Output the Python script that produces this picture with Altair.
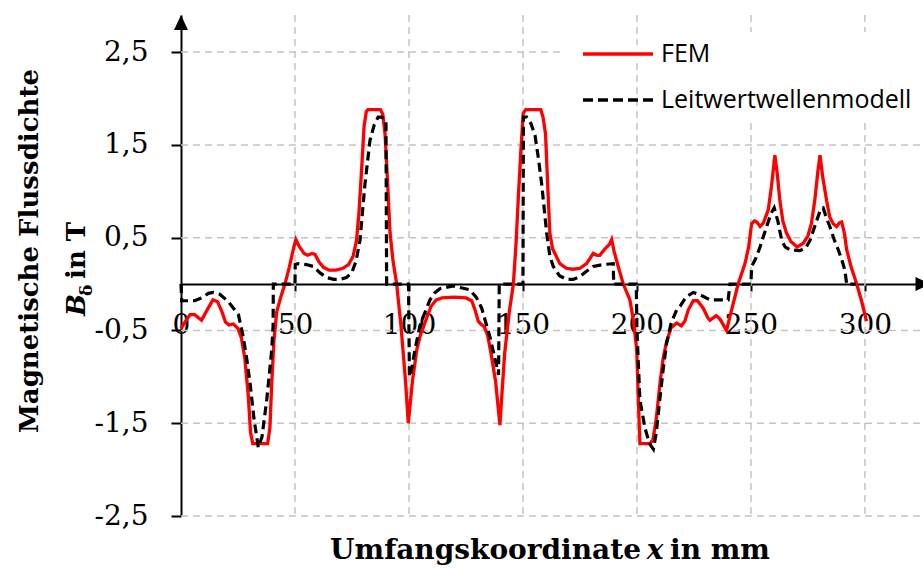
import altair as alt
import pandas as pd

# ---------------- data ----------------
series_names = ["FEM", "Leitwertwellenmodell"]

fem_x = [0, 2, 4, 6, 9, 11, 14, 16, 18, 19.5, 21, 23, 25, 26.5, 28, 29.5, 30.5, 31.5, 38, 39,
         39.8, 40.8, 42, 44, 45.6, 47.5, 49.5, 50.4, 52, 54, 55.5, 57.5, 58.8, 60.5, 62.5, 65, 68,
         71, 73.5, 75.5, 77, 78, 79.3, 80.3, 81.3, 82, 87.5, 88.5, 89.5, 90.5, 91.7, 93, 94.6,
         96.5, 98.5, 99.7, 101.5, 103.4, 105, 106.5, 108, 109.7, 112, 114.5, 120, 125, 127.5,
         129, 130.4, 131.5, 133, 134.5, 136, 138, 139.9, 141, 142, 144, 145.8, 147, 147.9, 149,
         150.1, 151.2, 157.8, 158.8, 159.9, 160.8, 161.8, 163, 166.2, 169, 172, 175, 177.9, 179.5,
         180.8, 182.5, 183.7, 186, 188, 188.9, 190, 192, 194, 196.9, 198.5, 199.9, 200.7, 201.3,
         205.7, 207, 208.5, 210.1, 211.5, 213, 215, 217.4, 219.5, 221, 222.5, 224.7, 226.5, 229.1,
         231, 232, 234.8, 236.5, 239.3, 241, 244.4, 247.4, 249, 250.3, 251.5, 252.5, 254, 255.5,
         257.6, 259, 260.5, 261.5, 262.7, 264, 265.6, 267.5, 270.3, 273, 275, 276.5, 278, 279.3,
         280.3, 281.5, 283.2, 284.6, 286.1, 287.6, 288.8, 289.8, 291, 292, 294, 296.4, 298.5, 300.7]
fem_y = [-0.48, -0.40, -0.33, -0.33, -0.39, -0.30, -0.17, -0.19, -0.30, -0.41, -0.44, -0.43, -0.48,
         -0.58, -0.80, -1.20, -1.60, -1.72, -1.72, -1.55, -1.07, -0.60, -0.30, -0.12, 0.0, 0.18,
         0.40, 0.48, 0.40, 0.33, 0.31, 0.33, 0.32, 0.24, 0.18, 0.15, 0.15, 0.17, 0.21, 0.30, 0.47,
         0.75, 1.26, 1.70, 1.86, 1.88, 1.88, 1.83, 1.62, 1.15, 0.55, 0.25, 0.0, -0.45, -1.05, -1.50,
         -1.05, -0.71, -0.55, -0.45, -0.35, -0.24, -0.17, -0.15, -0.14, -0.15, -0.18, -0.28, -0.40,
         -0.43, -0.46, -0.55, -0.75, -1.05, -1.52, -1.10, -0.74, -0.30, 0.0, 0.45, 0.90, 1.40, 1.84,
         1.88, 1.88, 1.80, 1.62, 1.10, 0.55, 0.38, 0.22, 0.17, 0.16, 0.17, 0.22, 0.28, 0.33, 0.31,
         0.31, 0.38, 0.43, 0.48, 0.35, 0.17, 0.0, -0.17, -0.40, -0.71, -1.30, -1.72, -1.72, -1.68,
         -1.45, -1.07, -0.80, -0.62, -0.47, -0.42, -0.45, -0.40, -0.28, -0.18, -0.18, -0.26, -0.36,
         -0.39, -0.34, -0.38, -0.50, -0.33, 0.0, 0.22, 0.40, 0.65, 0.68, 0.67, 0.62, 0.66, 0.80,
         1.05, 1.39, 1.20, 0.90, 0.68, 0.55, 0.46, 0.40, 0.44, 0.52, 0.65, 0.90, 1.20, 1.39, 1.15,
         0.90, 0.72, 0.65, 0.62, 0.66, 0.67, 0.55, 0.37, 0.18, 0.0, -0.18, -0.40]

lw_x = [0, 0.3, 6, 9, 12, 14.2, 17, 20.8, 23, 25.2, 27.3, 28.8, 30.3, 32, 33.9, 35.5, 37.6, 39.8,
        40.4, 40.5, 50, 50.1, 51.5, 55, 58, 61, 63.9, 67, 69.7, 72.5, 74.9, 76.8, 78.5, 80.7, 82.9,
        84.8, 86.5, 88, 89.9, 90.2, 99.8, 100.2, 101.3, 102.6, 104.8, 106.3, 109.2, 111.5, 113.6,
        119.4, 126.5, 129.5, 131.9, 135.5, 137.5, 139.3, 139.6, 150, 150.2, 151.6, 153.5, 155.3,
        156.8, 158.2, 160.4, 161.8, 163.3, 166, 169.2, 172, 175, 178, 180.8, 185, 189.6, 189.8,
        199.7, 200.0, 201.3, 203.5, 205.5, 207.2, 208.5, 210, 211.5, 213, 215, 217.4, 218.9, 221.5,
        224.7, 228, 232, 240, 240.8, 250, 250.3, 252, 254, 256.9, 258.8, 260.2, 261.8, 263.5, 265,
        267.1, 271.5, 274, 275.9, 278.5, 280.5, 281.7, 283, 284.6, 286.5, 288.3, 290, 291.2, 292, 296]
lw_y = [0.0, -0.18, -0.18, -0.15, -0.10, -0.09, -0.11, -0.19, -0.26, -0.33, -0.57, -0.80, -1.07,
        -1.45, -1.76, -1.65, -1.25, -0.71, -0.45, 0.0, 0.0, 0.21, 0.22, 0.21, 0.19, 0.12, 0.07, 0.05,
        0.05, 0.07, 0.12, 0.25, 0.47, 1.08, 1.55, 1.72, 1.80, 1.80, 1.77, 0.0, 0.0, -1.0, -0.90,
        -0.71, -0.45, -0.35, -0.17, -0.09, -0.05, -0.02, -0.06, -0.14, -0.26, -0.57, -0.78, -0.98,
        0.0, 0.0, 1.80, 1.80, 1.73, 1.60, 1.35, 1.08, 0.55, 0.30, 0.19, 0.09, 0.05, 0.05, 0.08, 0.14,
        0.19, 0.21, 0.22, 0.0, 0.0, -0.5, -1.25, -1.55, -1.72, -1.78, -1.60, -1.25, -0.92, -0.64,
        -0.42, -0.28, -0.24, -0.14, -0.09, -0.12, -0.17, -0.17, 0.0, 0.0, 0.19, 0.27, 0.40, 0.62,
        0.76, 0.82, 0.68, 0.47, 0.40, 0.37, 0.36, 0.39, 0.47, 0.66, 0.80, 0.82, 0.72, 0.62, 0.48,
        0.37, 0.25, 0.15, 0.0, 0.0]

x_ticks = [0, 50, 100, 150, 200, 250, 300]
x_grid = [50, 100, 150, 200, 250, 300]
y_ticks = [-2.5, -1.5, -0.5, 0.5, 1.5, 2.5]

# ---------------- layout ----------------
W, H = 740, 501
X_DOM = [0, 324.6]
Y_DOM = [-2.5, 2.9]
SERIF = "DejaVu Serif"
SANS = "Open Sans"

xs = alt.Scale(domain=X_DOM, nice=False, zero=False)
ys = alt.Scale(domain=Y_DOM, nice=False, zero=False)

xaxis = alt.Axis(values=x_ticks, orient="bottom", offset=-232, grid=False, title=None,
                 domainColor="black", domainWidth=2, tickColor="black", tickWidth=2, tickSize=7,
                 labelFont=SERIF, labelFontSize=28, labelColor="black", labelPadding=20,
                 labelExpr="toString(datum.value)", labelFlush=False, labelOverlap=False)
yaxis = alt.Axis(values=y_ticks, orient="left", grid=False, title=None,
                 domainColor="black", domainWidth=2, tickColor="black", tickWidth=2, tickSize=10,
                 labelFont=SERIF, labelFontSize=28, labelColor="black", labelPadding=23,
                 labelExpr="replace(toString(datum.value), '.', ',')", labelFlush=False,
                 labelOverlap=False)

fem_df = pd.DataFrame({"x": fem_x, "y": fem_y})
lw_df = pd.DataFrame({"x": lw_x, "y": lw_y})
one = pd.DataFrame({"a": [0]})

grid_style = dict(color="#c4c4c4", strokeWidth=1.5, strokeDash=[7, 5])

vgrid = alt.Chart(pd.DataFrame({"g": x_grid})).mark_rule(**grid_style).encode(
    x=alt.X("g:Q", scale=xs, axis=xaxis), y=alt.value(0), y2=alt.value(H))
hgrid = alt.Chart(pd.DataFrame({"g": y_ticks})).mark_rule(**grid_style).encode(
    y=alt.Y("g:Q", scale=ys, axis=yaxis), x=alt.value(0), x2=alt.value(W))

# legend background (hides gridlines)
leg_bg1 = alt.Chart(one).mark_rect(color="white").encode(
    x=alt.value(475), x2=alt.value(742), y=alt.value(17), y2=alt.value(107))
leg_bg2 = alt.Chart(one).mark_rect(color="white").encode(
    x=alt.value(382), x2=alt.value(475), y=alt.value(30), y2=alt.value(46))

fem_line = alt.Chart(fem_df).mark_line(color="#ff0000", strokeWidth=3.3).encode(
    x=alt.X("x:Q", scale=xs, axis=xaxis), y=alt.Y("y:Q", scale=ys, axis=yaxis))
lw_line = alt.Chart(lw_df).mark_line(color="black", strokeWidth=3.2, strokeDash=[9, 5]).encode(
    x=alt.X("x:Q", scale=xs, axis=xaxis), y=alt.Y("y:Q", scale=ys, axis=yaxis))

# arrows
arrow_up = alt.Chart(one).mark_point(shape="M0,-1L0.93,1L-0.93,1Z", filled=True, size=225,
                                     color="black", opacity=1).encode(
    x=alt.value(0), y=alt.value(7.5))
arrow_right = alt.Chart(one).mark_point(shape="M1,0L-1,-0.93L-1,0.93Z", filled=True, size=225,
                                        color="black", opacity=1).encode(
    x=alt.value(742), y=alt.YDatum(0, scale=ys, axis=yaxis))

# legend
leg_red = alt.Chart(one).mark_rule(color="#ff0000", strokeWidth=3.5).encode(
    x=alt.value(402), x2=alt.value(472), y=alt.value(39))
leg_blk = alt.Chart(one).mark_rule(color="black", strokeWidth=3.5, strokeDash=[10, 5]).encode(
    x=alt.value(402), x2=alt.value(472), y=alt.value(85))
leg_t1 = alt.Chart(one).mark_text(text=series_names[0], font=SANS, fontSize=25, align="left",
                                  baseline="middle", color="black").encode(
    x=alt.value(480), y=alt.value(39))
leg_t2 = alt.Chart(one).mark_text(text=series_names[1], font=SANS, fontSize=25, align="left",
                                  baseline="middle", color="black").encode(
    x=alt.value(480), y=alt.value(85))

# y title
tsz = 26
yt1 = alt.Chart(one).mark_text(text="Magnetische Flussdichte", font=SERIF, fontSize=tsz,
                               fontWeight="bold", angle=270, align="center",
                               baseline="alphabetic", color="black").encode(
    x=alt.value(-143), y=alt.value(236))
yt_b = alt.Chart(one).mark_text(text="B", font=SERIF, fontSize=tsz, fontWeight="bold",
                                fontStyle="italic", angle=270, align="left",
                                baseline="alphabetic", color="black").encode(
    x=alt.value(-96), y=alt.value(301))
yt_d = alt.Chart(one).mark_text(text="δ", font=SERIF, fontSize=17, fontWeight="bold", angle=270,
                                align="left", baseline="alphabetic", color="black").encode(
    x=alt.value(-89), y=alt.value(281))
yt_r = alt.Chart(one).mark_text(text="in T", font=SERIF, fontSize=tsz, fontWeight="bold",
                                angle=270, align="left", baseline="alphabetic",
                                color="black").encode(
    x=alt.value(-96), y=alt.value(264))

# x title
xsz = 28
xt1 = alt.Chart(one).mark_text(text="Umfangskoordinate", font=SERIF, fontSize=xsz,
                               fontWeight="bold", align="right", baseline="alphabetic",
                               color="black").encode(x=alt.value(460), y=alt.value(544))
xt2 = alt.Chart(one).mark_text(text="x", font=SERIF, fontSize=xsz, fontWeight="bold",
                               fontStyle="italic", align="center", baseline="alphabetic",
                               color="black").encode(x=alt.value(474), y=alt.value(544))
xt3 = alt.Chart(one).mark_text(text="in mm", font=SERIF, fontSize=xsz, fontWeight="bold",
                               align="left", baseline="alphabetic",
                               color="black").encode(x=alt.value(489), y=alt.value(544))

chart = alt.layer(
    vgrid, hgrid, leg_bg1, leg_bg2, fem_line, lw_line, arrow_up, arrow_right,
    leg_red, leg_blk, leg_t1, leg_t2, yt1, yt_b, yt_d, yt_r, xt1, xt2, xt3
).properties(
    width=W, height=H,
    autosize=alt.AutoSizeParams(type="none"),
    padding={"left": 181, "top": 15, "right": 2, "bottom": 53},
    background="white",
).configure_view(stroke=None)

chart.save("out.html", embed_options={"renderer": "svg", "actions": False})
